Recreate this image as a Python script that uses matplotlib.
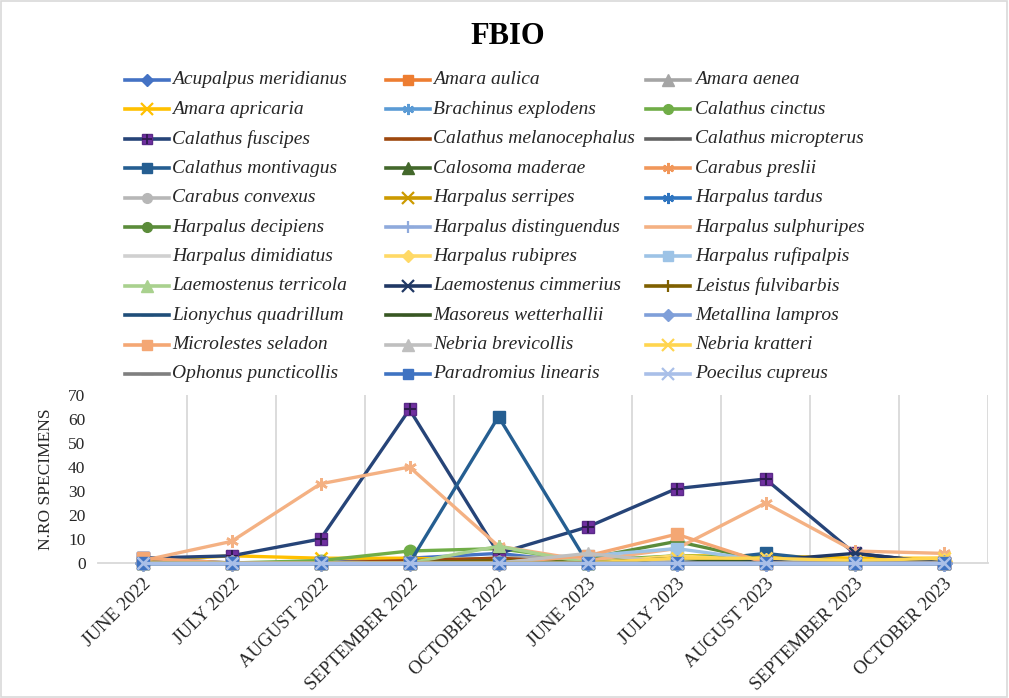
import matplotlib
matplotlib.use("Agg")
import matplotlib.pyplot as plt
from matplotlib.lines import Line2D
from matplotlib.patches import Rectangle
import numpy as np

months = ["JUNE 2022", "JULY 2022", "AUGUST 2022", "SEPTEMBER 2022", "OCTOBER 2022",
          "JUNE 2023", "JULY 2023", "AUGUST 2023", "SEPTEMBER 2023", "OCTOBER 2023"]

species = [
    "Acupalpus meridianus", "Amara aulica", "Amara aenea",
    "Amara apricaria", "Brachinus explodens", "Calathus cinctus",
    "Calathus fuscipes", "Calathus melanocephalus", "Calathus micropterus",
    "Calathus montivagus", "Calosoma maderae", "Carabus preslii",
    "Carabus convexus", "Harpalus serripes", "Harpalus tardus",
    "Harpalus decipiens", "Harpalus distinguendus", "Harpalus sulphuripes",
    "Harpalus dimidiatus", "Harpalus rubipres", "Harpalus rufipalpis",
    "Laemostenus terricola", "Laemostenus cimmerius", "Leistus fulvibarbis",
    "Lionychus quadrillum", "Masoreus wetterhallii", "Metallina lampros",
    "Microlestes seladon", "Nebria brevicollis", "Nebria kratteri",
    "Ophonus puncticollis", "Paradromius linearis", "Poecilus cupreus",
]

acupalpus_meridianus    = [0, 0, 0, 2, 4, 0, 0, 0, 0, 0]
amara_aulica            = [0, 0, 0, 0, 1, 1, 0, 0, 0, 0]
amara_aenea             = [0, 0, 0, 1, 2, 3, 1, 0, 0, 0]
amara_apricaria         = [1, 3, 2, 2, 1, 0, 3, 3, 2, 2]
brachinus_explodens     = [0, 0, 0, 0, 0, 0, 1, 0, 0, 0]
calathus_cinctus        = [0, 0, 1, 5, 6, 1, 3, 2, 0, 0]
calathus_fuscipes       = [2, 3, 10, 64, 4, 15, 31, 35, 4, 0]
calathus_melanocephalus = [0, 0, 0, 1, 2, 0, 0, 0, 0, 0]
calathus_micropterus    = [0, 0, 0, 0, 1, 0, 0, 0, 0, 0]
calathus_montivagus     = [2, 0, 0, 0, 61, 0, 0, 4, 0, 0]
calosoma_maderae        = [0, 0, 0, 0, 1, 0, 2, 1, 0, 0]
carabus_preslii         = [0, 0, 0, 0, 0, 0, 1, 0, 0, 0]
carabus_convexus        = [0, 0, 0, 0, 0, 1, 0, 0, 0, 0]
harpalus_serripes       = [0, 0, 0, 0, 0, 0, 2, 1, 1, 0]
harpalus_tardus         = [0, 0, 0, 0, 0, 0, 0, 0, 0, 0]
harpalus_decipiens      = [0, 0, 0, 0, 0, 2, 9, 1, 0, 0]
harpalus_distinguendus  = [0, 0, 0, 0, 0, 0, 1, 0, 0, 0]
harpalus_sulphuripes    = [1, 9, 33, 40, 7, 1, 6, 25, 5, 4]
harpalus_dimidiatus     = [0, 0, 0, 0, 0, 0, 1, 0, 0, 0]
harpalus_rubipres       = [0, 0, 0, 0, 0, 0, 3, 1, 0, 1]
harpalus_rufipalpis     = [0, 0, 0, 0, 0, 3, 6, 1, 0, 0]
laemostenus_terricola   = [0, 0, 0, 0, 7, 0, 0, 0, 0, 0]
laemostenus_cimmerius   = [0, 0, 0, 0, 0, 0, 0, 1, 4, 0]
leistus_fulvibarbis     = [0, 0, 0, 0, 1, 0, 0, 0, 0, 0]
lionychus_quadrillum    = [0, 0, 0, 0, 0, 0, 0, 0, 0, 0]
masoreus_wetterhallii   = [0, 0, 0, 0, 0, 0, 2, 0, 0, 0]
metallina_lampros       = [0, 0, 0, 0, 0, 0, 0, 0, 0, 0]
microlestes_seladon     = [2, 0, 0, 0, 0, 3, 12, 0, 0, 0]
nebria_brevicollis      = [0, 0, 0, 0, 0, 4, 0, 0, 0, 0]
nebria_kratteri         = [0, 0, 0, 0, 0, 0, 2, 2, 1, 2]
ophonus_puncticollis    = [0, 0, 0, 0, 0, 0, 0, 0, 0, 0]
paradromius_linearis    = [0, 0, 0, 0, 0, 0, 0, 0, 0, 0]
poecilus_cupreus        = [0, 0, 0, 0, 0, 0, 0, 0, 0, 0]

values = [
    acupalpus_meridianus, amara_aulica, amara_aenea,
    amara_apricaria, brachinus_explodens, calathus_cinctus,
    calathus_fuscipes, calathus_melanocephalus, calathus_micropterus,
    calathus_montivagus, calosoma_maderae, carabus_preslii,
    carabus_convexus, harpalus_serripes, harpalus_tardus,
    harpalus_decipiens, harpalus_distinguendus, harpalus_sulphuripes,
    harpalus_dimidiatus, harpalus_rubipres, harpalus_rufipalpis,
    laemostenus_terricola, laemostenus_cimmerius, leistus_fulvibarbis,
    lionychus_quadrillum, masoreus_wetterhallii, metallina_lampros,
    microlestes_seladon, nebria_brevicollis, nebria_kratteri,
    ophonus_puncticollis, paradromius_linearis, poecilus_cupreus,
]

AST = (6, 2, 0)
colors = [
    "#4472C4", "#ED7D31", "#A5A5A5",
    "#FFC000", "#5B9BD5", "#70AD47",
    "#264478", "#9E480E", "#636363",
    "#255E91", "#43682B", "#F1975A",
    "#B7B7B7", "#CC9A00", "#2F75C0",
    "#5B8C3A", "#8FAADC", "#F4B183",
    "#D0D0D0", "#FFD966", "#9DC3E6",
    "#A9D18E", "#203864", "#7F6000",
    "#1F4E79", "#385723", "#7F9FD9",
    "#F4A774", "#BFBFBF", "#FFD54F",
    "#7F7F7F", "#3F73C2", "#A9BFE8",
]
markers = [
    "D", "s", "^",
    "x", AST, "o",
    "s", "_", "_",
    "s", "^", AST,
    "o", "x", AST,
    "o", "+", AST,
    None, "D", "s",
    "^", "x", "+",
    "_", "_", "D",
    "s", "^", "x",
    "_", "s", "x",
]
legend_markers = list(markers)
legend_markers[17] = None


def msize(m, big=False):
    if m in ("s", "o"):
        return 9 if big else 7
    if m == "D":
        return 8 if big else 6.5
    return 9 if big else 8


serif = ["Liberation Serif", "DejaVu Serif"]
W, H = 1009, 698
fig = plt.figure(figsize=(W / 100, H / 100), dpi=100)
ax = fig.add_axes([98 / W, 1 - 563 / H, (988 - 98) / W, (563 - 395) / H])

x = np.arange(len(months))
for i, (name, vals) in enumerate(zip(species, values)):
    m = markers[i]
    face = "#7030A0" if i == 6 else colors[i]
    ax.plot(x, vals, color=colors[i], lw=2.4, marker=m,
            markersize=msize(m, True),
            markerfacecolor=face, markeredgecolor=colors[i] if i != 6 else "#5A2A88",
            markeredgewidth=1.8 if m in ("x", "+", AST) else 1.0,
            zorder=3 + i * 0.01, solid_joinstyle="round", clip_on=False)
    if i == 6:
        ax.plot(x, vals, linestyle="none", marker="+", markersize=9,
                markeredgewidth=1.5, color="#2E1A4F", zorder=3 + i * 0.01 + 0.005,
                clip_on=False)

ax.set_xlim(-0.5, len(months) - 0.5)
ax.set_ylim(0, 70)
ax.set_yticks(np.arange(0, 71, 10))
ax.set_xticks(x)
ax.set_xticks(np.arange(0.5, len(months)), minor=True)
ax.grid(True, which="minor", axis="x", color="#D9D9D9", lw=1.3)
ax.grid(False, which="major")
ax.tick_params(axis="both", which="both", length=0)
ax.tick_params(axis="y", pad=9)
for s in ["left", "right", "top"]:
    ax.spines[s].set_visible(False)
ax.spines["bottom"].set_color("#D9D9D9")
ax.spines["bottom"].set_linewidth(1.3)

ax.set_xticklabels(months, rotation=45, ha="right", va="top",
                   rotation_mode="anchor", fontsize=13.5, family=serif, color="#262626")
for lab in ax.get_yticklabels():
    lab.set_family(serif)
    lab.set_fontsize(12.5)
    lab.set_color("#262626")
ax.tick_params(axis="x", pad=9)
ax.set_ylabel("N.RO SPECIMENS", family=serif, fontsize=12.5, color="#262626")
ax.yaxis.set_label_coords(-0.05, 0.5)

fig.text(508 / W, 1 - 37 / H, "FBIO", ha="center", va="center",
         fontsize=22, fontweight="bold", family=serif, color="#000000")

# legend, 3 columns x 11 rows
line_x0 = [125, 386, 646]
text_x0 = [172, 433, 695]
row_y0, row_dy = 80, 29.4
for i, name in enumerate(species):
    r, c = divmod(i, 3)
    yy = 1 - (row_y0 + r * row_dy) / H
    xa = line_x0[c] / W
    xb = (line_x0[c] + 44) / W
    lm = legend_markers[i]
    face = "#7030A0" if i == 6 else colors[i]
    fig.add_artist(Line2D([xa, xb], [yy, yy], transform=fig.transFigure,
                          color=colors[i], lw=2.6))
    if lm is not None:
        fig.add_artist(Line2D([(xa + xb) / 2], [yy], transform=fig.transFigure,
                              color=colors[i], marker=lm,
                              markersize=msize(lm),
                              markerfacecolor=face,
                              markeredgecolor=colors[i] if i != 6 else "#5A2A88",
                              markeredgewidth=1.6 if lm in ("x", "+", AST) else 1.0,
                              linestyle="none"))
        if i == 6:
            fig.add_artist(Line2D([(xa + xb) / 2], [yy], transform=fig.transFigure,
                                  color="#2E1A4F", marker="+", markersize=7,
                                  markeredgewidth=1.3, linestyle="none"))
    fig.text(text_x0[c] / W, yy, name, ha="left", va="center", fontsize=14,
             style="italic", family=serif, color="#262626")

fig.add_artist(Rectangle((0.001, 0.001), 0.997, 0.997, transform=fig.transFigure,
                         fill=False, edgecolor="#D9D9D9", lw=1.2))

fig.savefig("out.png", dpi=100)
